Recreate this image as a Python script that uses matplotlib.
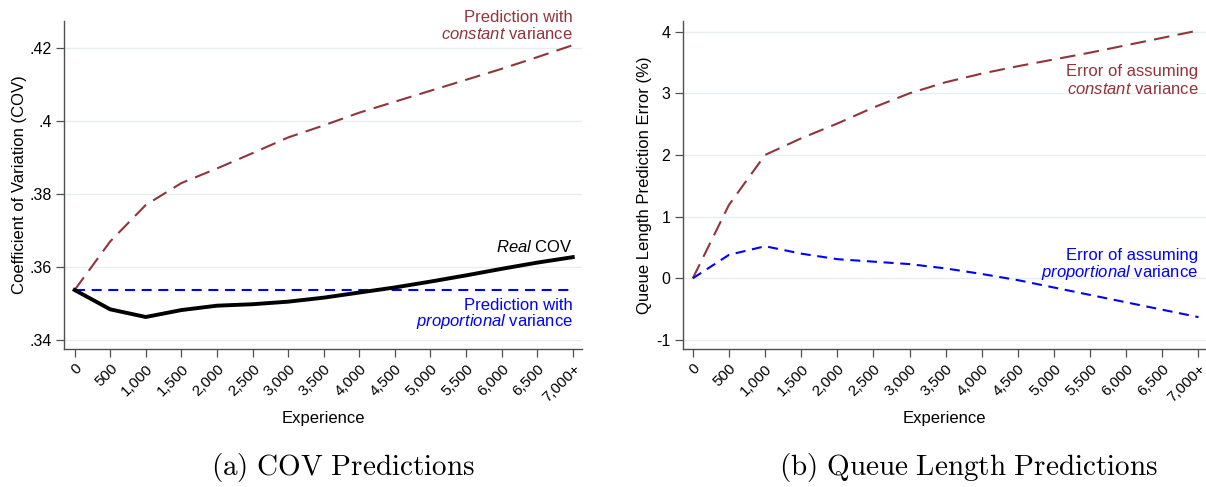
"""
Variationskoeffizient und Warteschlangenfehler nach Erfahrung.
"""

import matplotlib.pyplot as plt

# === Daten ===
erfahrung = [0, 500, 1000, 1500, 2000, 2500, 3000, 3500, 4000, 4500, 5000, 5500, 6000, 6500, 7000]
x_labels = ["0", "500", "1,000", "1,500", "2,000", "2,500", "3,000", "3,500", "4,000",
            "4,500", "5,000", "5,500", "6,000", "6,500", "7,000+"]

cov_konstant = [0.3537, 0.3670, 0.3770, 0.3830, 0.3870, 0.3912, 0.3955, 0.3988, 0.4023,
                0.4053, 0.4083, 0.4113, 0.4143, 0.4175, 0.4208]
cov_proportional = [0.3537] * 15
cov_real = [0.3537, 0.3484, 0.3463, 0.3482, 0.3494, 0.3498, 0.3505, 0.3516, 0.3530,
            0.3544, 0.3560, 0.3577, 0.3595, 0.3612, 0.3627]

fehler_konstant = [0.0, 1.19, 2.0, 2.27, 2.51, 2.77, 3.0, 3.18, 3.32, 3.44, 3.55, 3.66,
                   3.78, 3.90, 4.02]
fehler_proportional = [0.0, 0.38, 0.52, 0.40, 0.31, 0.27, 0.23, 0.16, 0.07, -0.03, -0.15,
                       -0.27, -0.39, -0.51, -0.63]

cov_ticks = [0.34, 0.36, 0.38, 0.40, 0.42]
cov_ticklabels = [".34", ".36", ".38", ".4", ".42"]
fehler_ticks = [-1, 0, 1, 2, 3, 4]
fehler_ticklabels = ["-1", "0", "1", "2", "3", "4"]

# === Stil ===
plt.rcParams['font.family'] = ['Liberation Sans', 'DejaVu Sans']
plt.rcParams['mathtext.fontset'] = 'custom'
plt.rcParams['mathtext.rm'] = 'Liberation Sans'
plt.rcParams['mathtext.it'] = 'Liberation Sans:italic'

ROT = '#90353B'
BLAU = '#0000FF'
GRID = '#e6eff0'
ACHSE = '#505050'

W, H = 1206, 487
fig = plt.figure(figsize=(W / 100, H / 100), dpi=100)


def px_box(x0, y0, x1, y1):
    return [x0 / W, 1 - y1 / H, (x1 - x0) / W, (y1 - y0) / H]


def achse_einrichten(ax, yticks, yticklabels):
    for s in ['top', 'right']:
        ax.spines[s].set_visible(False)
    for s in ['left', 'bottom']:
        ax.spines[s].set_color(ACHSE)
        ax.spines[s].set_linewidth(1.0)
    ax.set_xticks(erfahrung)
    ax.set_xticklabels(x_labels, rotation=45, ha='right', rotation_mode='anchor', fontsize=11)
    ax.set_yticks(yticks)
    ax.set_yticklabels(yticklabels, fontsize=11.5)
    ax.tick_params(axis='both', direction='out', length=6, width=0.9, color=ACHSE, pad=3)
    ax.grid(axis='y', color=GRID, linewidth=1.0)
    ax.set_axisbelow(True)


# === (a) COV ===
ax1 = fig.add_axes(px_box(64.3, 20.7, 582, 349))
achse_einrichten(ax1, cov_ticks, cov_ticklabels)
ax1.set_xlim(-145, 7130)
ax1.set_ylim(0.33753, 0.4275)
ax1.plot(erfahrung, cov_konstant, color=ROT, lw=1.5, dashes=(7.5, 4))
ax1.plot(erfahrung, cov_proportional, color=BLAU, lw=1.5, dashes=(4.8, 3.2))
ax1.plot(erfahrung, cov_real, color='black', lw=2.8)

ax1.text(7000, 0.4284, "Prediction with", color=ROT, fontsize=12, ha='right', va='center')
ax1.text(7000, 0.42375, r"$\it{constant}$ variance", color=ROT, fontsize=12, ha='right', va='center')
ax1.text(7000, 0.36559, r"$\it{Real}$ COV", color='black', fontsize=12, ha='right', va='center')
ax1.text(7000, 0.34932, "Prediction with", color=BLAU, fontsize=12, ha='right', va='center')
ax1.text(7000, 0.34493, r"$\it{proportional}$ variance", color=BLAU, fontsize=12, ha='right', va='center')

# === (b) Warteschlange ===
ax2 = fig.add_axes(px_box(682.7, 20.7, 1206, 349))
achse_einrichten(ax2, fehler_ticks, fehler_ticklabels)
ax2.set_xlim(-140, 7104)
ax2.set_ylim(-1.147, 4.178)
ax2.plot(erfahrung, fehler_konstant, color=ROT, lw=1.5, dashes=(7.5, 4))
ax2.plot(erfahrung, fehler_proportional, color=BLAU, lw=1.5, dashes=(4.8, 3.2))

ax2.text(7000, 3.351, "Error of assuming", color=ROT, fontsize=12, ha='right', va='center')
ax2.text(7000, 3.065, r"$\it{constant}$ variance", color=ROT, fontsize=12, ha='right', va='center')
ax2.text(7000, 0.367, "Error of assuming", color=BLAU, fontsize=12, ha='right', va='center')
ax2.text(7000, 0.091, r"$\it{proportional}$ variance", color=BLAU, fontsize=12, ha='right', va='center')

# === Achsentitel ===
fig.text(20 / W, 1 - 185 / H, "Coefficient of Variation (COV)", fontsize=12,
         rotation=90, ha='center', va='center')
fig.text(645 / W, 1 - 185 / H, "Queue Length Prediction Error (%)", fontsize=12,
         rotation=90, ha='center', va='center')
fig.text(323 / W, 1 - 419 / H, "Experience", fontsize=12, ha='center', va='center')
fig.text(944 / W, 1 - 419 / H, "Experience", fontsize=12, ha='center', va='center')

# === Unterschriften ===
fig.text(343 / W, 1 - 467 / H, r"$\mathrm{(a)\ COV\ Predictions}$", fontsize=21,
         ha='center', va='center', math_fontfamily='cm')
fig.text(968 / W, 1 - 467 / H, r"$\mathrm{(b)\ Queue\ Length\ Predictions}$", fontsize=21,
         ha='center', va='center', math_fontfamily='cm')

fig.savefig("out.png", dpi=100)
